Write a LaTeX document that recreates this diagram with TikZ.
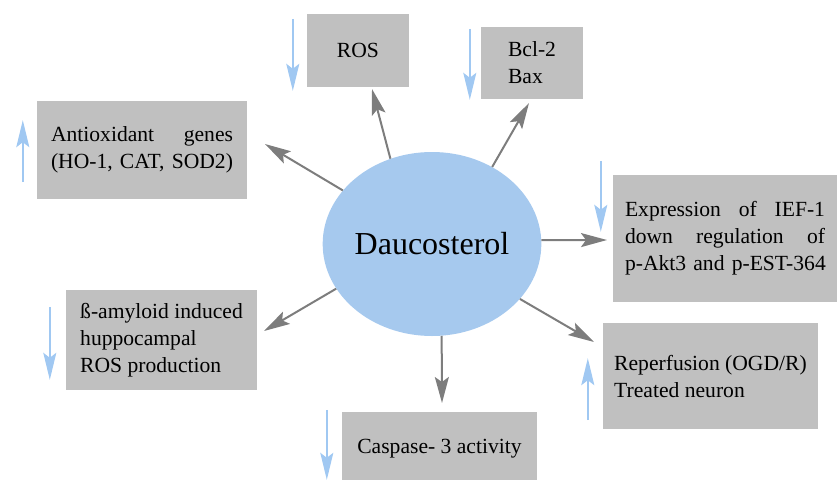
\documentclass[tikz,border=0pt]{standalone}
\usepackage{fontspec}
\setmainfont{Liberation Serif}
\usetikzlibrary{shapes.geometric,arrows.meta}
\definecolor{boxgray}{RGB}{192,192,192}
\definecolor{cellblue}{RGB}{166,201,238}
\definecolor{trendblue}{RGB}{160,200,242}
\definecolor{arrgray}{RGB}{125,125,125}

\begin{document}
\begin{tikzpicture}[x=1pt,y=-1pt,
    main_node/.style={ellipse,fill=cellblue,inner sep=0pt,minimum width=210pt,minimum height=184pt,font=\fontsize{32}{38}\selectfont},
    effect_box/.style={rectangle,fill=boxgray,inner sep=0pt,font=\fontsize{21.6}{27}\selectfont},
    effect_arrow/.style={arrgray,line width=2pt,-{Stealth[length=26pt,width=14pt,inset=5pt]}},
    trend/.style={trendblue,line width=1.5pt,-{Stealth[length=27pt,width=13pt,inset=5pt]}}]
    \useasboundingbox (0,0) rectangle (837,479);

    \node[main_node] (dauc) at (432,244) {Daucosterol};
    \node[effect_box,minimum width=102pt,minimum height=73pt] (ros) at (358,50.5) {ROS};
    \node[effect_box,minimum width=102pt,minimum height=72pt,align=left] (bcl) at (532,63) {Bcl-2\\Bax};
    \node[effect_box,minimum width=210pt,minimum height=98pt,text width=182pt,align=left] (antiox) at (142,150) {Antioxidant\hfill genes\\(HO-1, CAT, SOD2)};
    \node[effect_box,minimum width=224pt,minimum height=127pt,text width=200pt,align=left] (expr) at (725,238.5) {Expression\hfill of\hfill IEF-1\\down\hfill regulation\hfill of\\\mbox{p-Akt3 and p-EST-364}};
    \node[effect_box,minimum width=191pt,minimum height=100pt,align=left] (beta) at (161.5,340) {ß-amyloid induced\\huppocampal\\ROS production};
    \node[effect_box,minimum width=215pt,minimum height=106pt,align=left] (reperf) at (710.5,376) {Reperfusion (OGD/R)\\Treated neuron};
    \node[effect_box,minimum width=195pt,minimum height=74pt] (casp) at (439.5,449) {Caspase- 3 activity};

    \coordinate (ros_tip) at (372,89);
    \coordinate (bcl_tip) at (529,103);
    \coordinate (antiox_tip) at (265,144);
    \coordinate (expr_tip) at (607,240);
    \coordinate (beta_tip) at (264,331);
    \coordinate (reperf_tip) at (594,342);
    \coordinate (casp_tip) at (442,403);

    \draw[effect_arrow] (dauc.116) -- (ros_tip);
    \draw[effect_arrow] (dauc.52) -- (bcl_tip);
    \draw[effect_arrow] (dauc.149) -- (antiox_tip);
    \draw[effect_arrow] (dauc.2) -- (expr_tip);
    \draw[effect_arrow] (dauc.205) -- (beta_tip);
    \draw[effect_arrow] (dauc.328) -- (reperf_tip);
    \draw[effect_arrow] (dauc.276) -- (casp_tip);

    % up / down markers
    \draw[trend] ([shift={(-14,5)}]ros.north west) -- ++(0,72);
    \draw[trend] ([shift={(-11,2)}]bcl.north west) -- ++(0,71);
    \draw[trend] ([shift={(-14,-17)}]antiox.south west) -- ++(0,-62);
    \draw[trend] ([shift={(-12,-14)}]expr.north west) -- ++(0,71);
    \draw[trend] ([shift={(-16,17)}]beta.north west) -- ++(0,73);
    \draw[trend] ([shift={(-15,-9)}]reperf.south west) -- ++(0,-62);
    \draw[trend] ([shift={(-15,-2)}]casp.north west) -- ++(0,70);
\end{tikzpicture}
\end{document}
